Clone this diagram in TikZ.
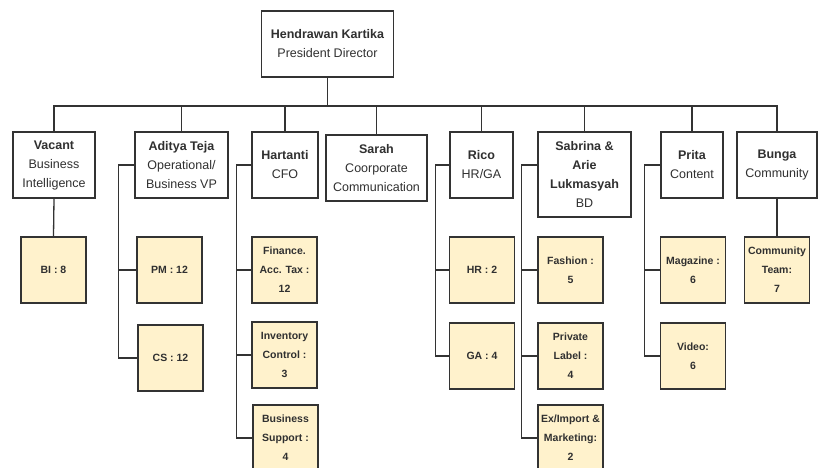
\documentclass[tikz,border=0pt]{standalone}
\usepackage{fontspec}
\setmainfont{Liberation Sans}
\definecolor{ln}{HTML}{333333}
\definecolor{tx}{HTML}{303030}
\definecolor{yel}{HTML}{FFF2CC}
\tikzset{
  base/.style={draw=ln, line width=1.3pt, inner sep=0pt, align=center, text=tx},
  lvtwo/.style 2 args={base, fill=white, minimum width=#1, minimum height=#2, font=\fontsize{12.5}{19}\selectfont},
  lvthree/.style={base, fill=yel, minimum width=65, minimum height=66, font=\fontsize{10.5}{19}\selectfont\bfseries},
  conn/.style={draw=ln, line width=1.3pt}
}
\begin{document}
\begin{tikzpicture}[x=1pt,y=-1pt]
\clip (0,0) rectangle (825,468);
\fill[white] (0,0) rectangle (825,468);
% level 1
\node[lvtwo={132}{66}] (top) at (327.5,44) {\textbf{Hendrawan Kartika}\\President Director};
% level 2
\node[lvtwo={82}{66}] (vac) at (54,165) {\textbf{Vacant}\\Business\\Intelligence};
\node[lvtwo={93}{66}] (adi) at (181.5,165) {\textbf{Aditya Teja}\\Operational/\\Business VP};
\node[lvtwo={66}{66}] (har) at (285,165) {\textbf{Hartanti}\\CFO};
\node[lvtwo={101}{66}] (sar) at (376.5,168) {\textbf{Sarah}\\Coorporate\\Communication};
\node[lvtwo={63}{66}] (ric) at (481.5,165) {\textbf{Rico}\\HR/GA};
\node[lvtwo={93}{85}] (sab) at (584.5,174.5) {\textbf{Sabrina \&}\\\textbf{Arie}\\\textbf{Lukmasyah}\\BD};
\node[lvtwo={62}{66}] (pri) at (692,165) {\textbf{Prita}\\Content};
\node[lvtwo={80}{66}] (bun) at (777,165) {\textbf{Bunga}\\Community};
% bus
\coordinate (busy) at (0,106);
\foreach \n in {vac,adi,har,sar,ric,sab,pri,bun}
  \draw[conn] (top.south) -- (top.south |- busy) -| (\n.north);
% level 3
\node[lvthree] (bi) at (53.5,270) {BI : 8};
\node[lvthree] (pm) at (169.5,270) {PM : 12};
\node[lvthree] (cs) at (170.5,358) {CS : 12};
\node[lvthree] (fin) at (284.5,270) {Finance.\\Acc. Tax :\\12};
\node[lvthree] (inv) at (284.5,355) {Inventory\\Control :\\3};
\node[lvthree] (bsup) at (285.5,438) {Business\\Support :\\4};
\node[lvthree] (hr) at (482,270) {HR : 2};
\node[lvthree] (ga) at (482,356) {GA : 4};
\node[lvthree] (fas) at (570.5,270) {Fashion :\\5};
\node[lvthree] (plab) at (570.5,356) {Private\\Label :\\4};
\node[lvthree] (exi) at (570.5,438) {Ex/Import \&\\Marketing:\\2};
\node[lvthree] (mag) at (693,270) {Magazine :\\6};
\node[lvthree] (vid) at (693,356) {Video:\\6};
\node[lvthree] (com) at (777,270) {Community\\Team:\\7};
% vertical drops
\draw[conn] (vac.south) -- (bi.north);
\draw[conn] (bun.south) -- (com.north);
% side trunks
\coordinate (adiT) at ([xshift=-16pt]adi.west);
\draw[conn] (adi.west) -- (adiT) |- (pm.west);
\draw[conn] (adiT) |- (cs.west);
\coordinate (harT) at ([xshift=-15pt]har.west);
\draw[conn] (har.west) -- (harT) |- (fin.west);
\draw[conn] (harT) |- (inv.west);
\draw[conn] (harT) |- (bsup.west);
\coordinate (ricT) at ([xshift=-14pt]ric.west);
\draw[conn] (ric.west) -- (ricT) |- (hr.west);
\draw[conn] (ricT) |- (ga.west);
\coordinate (sabW) at ([yshift=9.5pt]sab.west);
\coordinate (sabT) at ([xshift=-16pt]sabW);
\draw[conn] (sabW) -- (sabT) |- (fas.west);
\draw[conn] (sabT) |- (plab.west);
\draw[conn] (sabT) |- (exi.west);
\coordinate (priT) at ([xshift=-16pt]pri.west);
\draw[conn] (pri.west) -- (priT) |- (mag.west);
\draw[conn] (priT) |- (vid.west);
\end{tikzpicture}
\end{document}
